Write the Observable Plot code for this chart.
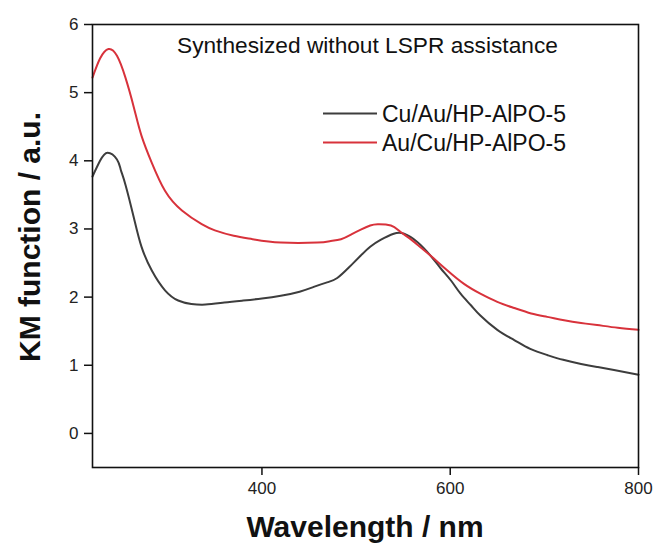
<!DOCTYPE html>
<html><head><meta charset="utf-8">
<script src="https://cdn.jsdelivr.net/npm/d3@7"></script>
<script src="https://cdn.jsdelivr.net/npm/@observablehq/plot@0.6"></script>
<style>
body{margin:0;background:#fff}
#chart{width:657px;height:548px}
</style>
</head><body><div id="chart"></div>
<script>
// Cu/Au/HP-AlPO-5 (dark grey curve)
const wavelengthCuAu = [220,228,236,246,250,255,264,272,283,297,311,325,340,360,380,400,420,440,455,470,480,492,505,515,526,540,551,565,579,590,601,611,622,632,650,668,685,703,720,739,756,774,800];
const kmCuAu = [3.77,4.00,4.12,4.02,3.87,3.65,3.16,2.74,2.39,2.10,1.95,1.90,1.89,1.92,1.95,1.98,2.02,2.08,2.15,2.22,2.28,2.43,2.61,2.74,2.84,2.93,2.93,2.81,2.61,2.42,2.24,2.05,1.88,1.73,1.52,1.37,1.24,1.15,1.08,1.02,0.975,0.93,0.86];
// Au/Cu/HP-AlPO-5 (red curve)
const wavelengthAuCu = [220,228,237,246,255,264,272,283,297,315,336,350,370,390,420,459,472,484,495,505,515,523,537,546,555,566,579,597,615,632,650,668,686,703,721,739,756,778,800];
const kmAuCu = [5.22,5.50,5.64,5.54,5.22,4.78,4.37,3.97,3.56,3.27,3.07,2.98,2.90,2.85,2.80,2.80,2.82,2.85,2.92,2.99,3.05,3.07,3.05,2.97,2.88,2.76,2.61,2.39,2.19,2.05,1.93,1.84,1.76,1.71,1.66,1.62,1.59,1.55,1.52];

const seriesNames = ["Cu/Au/HP-AlPO-5", "Au/Cu/HP-AlPO-5"];
const seriesColors = ["#3d3d3d", "#d8323b"];
const xTicks = [400, 600, 800];
const yTicks = [0, 1, 2, 3, 4, 5, 6];
const titleText = "Synthesized without LSPR assistance";
const xLabel = "Wavelength / nm";
const yLabel = "KM function / a.u.";

const rows = [
  ...wavelengthCuAu.map((w, i) => ({w, v: kmCuAu[i], s: seriesNames[0]})),
  ...wavelengthAuCu.map((w, i) => ({w, v: kmAuCu[i], s: seriesNames[1]}))
];

const font = "'Liberation Sans', Arial, sans-serif";
const W = 657, H = 548;
const mL = 92, mR = 19, mT = 24, mB = 81;

const chart = Plot.plot({
  width: W, height: H,
  marginLeft: mL, marginRight: mR, marginTop: mT, marginBottom: mB,
  style: {fontFamily: font, fontSize: "17px", color: "#222", background: "#fff", overflow: "visible"},
  x: {domain: [220, 800]},
  y: {domain: [-0.5, 6]},
  color: {domain: seriesNames, range: seriesColors},
  marks: [
    Plot.line(rows, {x: "w", y: "v", z: "s", stroke: "s", strokeWidth: 2, curve: "natural"}),
    Plot.axisX({ticks: xTicks, tickSize: 8, tickPadding: 6, tickFormat: d => String(d), label: null, stroke: "#111", strokeWidth: 1.5, fontSize: 17}),
    Plot.axisY({ticks: yTicks, tickSize: 8, tickPadding: 6, tickFormat: d => String(d), label: null, stroke: "#111", strokeWidth: 1.5, fontSize: 17}),
    Plot.frame({stroke: "#111", strokeWidth: 1.6})
  ]
});
document.getElementById("chart").appendChild(chart);

const svg = d3.select(chart);
// title inside plot
svg.append("text").attr("x", 177).attr("y", 52.5).attr("text-anchor", "start")
  .attr("font-family", font).attr("font-size", 22.7).attr("fill", "#111")
  .text(titleText);
// legend
const legendY = [113.5, 142.5];
seriesNames.forEach((name, i) => {
  svg.append("line").attr("x1", 323).attr("x2", 377).attr("y1", legendY[i]).attr("y2", legendY[i])
    .attr("stroke", seriesColors[i]).attr("stroke-width", 2);
  svg.append("text").attr("x", 382).attr("y", legendY[i] + 8.3).attr("text-anchor", "start")
    .attr("font-family", font).attr("font-size", 23).attr("fill", "#111")
    .text(name);
});
// axis labels
svg.append("text").attr("x", 365).attr("y", 536.5).attr("text-anchor", "middle")
  .attr("font-family", font).attr("font-size", 30).attr("font-weight", "bold").attr("fill", "#111")
  .text(xLabel);
svg.append("text").attr("transform", "translate(40,237) rotate(-90)").attr("text-anchor", "middle")
  .attr("font-family", font).attr("font-size", 30).attr("font-weight", "bold").attr("fill", "#111")
  .text(yLabel);
</script>
</body></html>
